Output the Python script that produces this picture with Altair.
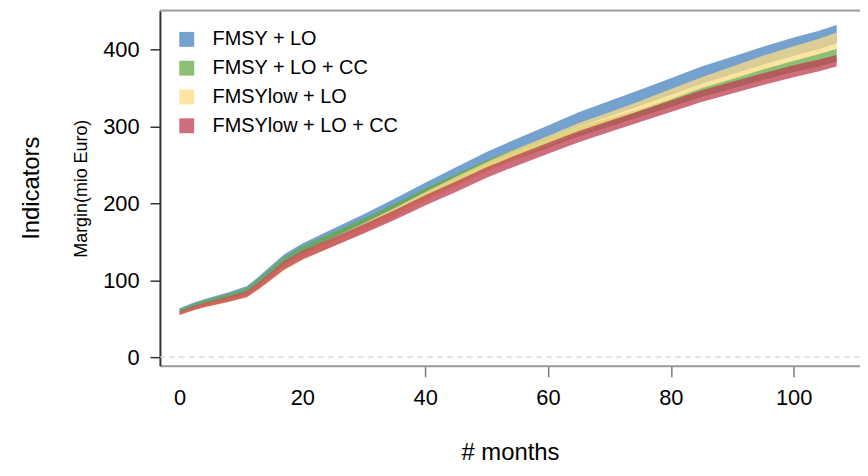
import altair as alt
import pandas as pd

# ---- data ----
months = [0, 2, 4, 6, 8, 11, 13, 15, 17, 20, 25, 30, 35, 40, 45, 50, 55, 60,
          65, 70, 75, 80, 85, 90, 95, 100, 104, 107]

blue_lo = [58.6, 64.5, 69.5, 73.4, 77.4, 84.3, 96.2, 109, 122, 135.9, 154.3, 173, 192.6, 213.2,
           232.6, 251.7, 268.4, 284.1, 299.8, 313.4, 327, 341, 355.5, 368, 380.5, 392, 400.7, 408.2]
blue_hi = [63.5, 70, 75.5, 80, 84.5, 92.5, 105.5, 119.5, 133.5, 148, 167, 186, 206, 227,
           247, 266.8, 284.5, 301.5, 318.5, 333.3, 348, 363, 378, 391, 404, 415.8, 424.5, 432]
green_lo = [57.2, 63, 67.8, 71.6, 75.4, 82, 93.6, 106.2, 118.8, 132.6, 150.2, 167.8, 186.4, 206,
            224.6, 242.6, 258.3, 272.6, 287.3, 300, 312.7, 325.6, 338.4, 349.7, 360.5, 371, 377.9, 384.5]
green_hi = [62.2, 68.5, 73.9, 78.2, 82.6, 90.3, 103, 116.7, 130.4, 144.7, 162.7, 180.5, 199.6, 219.5,
            238, 256, 271.2, 284.9, 299, 311, 322.8, 336.6, 350.9, 362.7, 375, 385.9, 394.3, 401.2]
yellow_lo = [54.5, 60, 64.5, 68, 71.5, 77.5, 88.5, 100.5, 112.5, 126, 144, 162.1, 181.6, 202.1,
             221.7, 241, 258.6, 274.9, 291.2, 305.7, 320.3, 334.8, 349.5, 361.7, 374, 385.4, 393.8, 401.2]
yellow_hi = [59, 65, 70, 74, 78, 85, 97, 110, 123, 137, 155.5, 174.3, 194.2, 215,
             234.8, 254, 271.6, 287.8, 304.5, 318.7, 333.3, 348.9, 364.2, 378, 392, 404.4, 413.9, 422.3]
red_lo = [55, 60.5, 65, 68.6, 72.2, 78.3, 89.4, 101.5, 113.6, 127.1, 144, 160.8, 178.6, 197.3,
          215, 233.3, 249.5, 264.5, 279.5, 292.8, 306, 319, 332, 343, 354, 364.3, 371.5, 378]
red_hi = [59.5, 65.5, 70.5, 74.6, 78.7, 85.8, 97.9, 111, 124, 138.1, 155.5, 173, 191.2, 210.5,
          228.4, 247, 263.5, 278.9, 294.3, 307.7, 320.7, 334, 347.2, 358.4, 369.5, 379.7, 386.9, 393.1]

series = ["FMSY + LO", "FMSY + LO + CC", "FMSYlow + LO", "FMSYlow + LO + CC"]
colors = ["#4682be", "#64aa46", "#fcdc82", "#be3c50"]
x_ticks = [0, 20, 40, 60, 80, 100]
y_ticks = [0, 100, 200, 300, 400]

bands = {
    series[0]: (blue_lo, blue_hi),
    series[1]: (green_lo, green_hi),
    series[2]: (yellow_lo, yellow_hi),
    series[3]: (red_lo, red_hi),
}

rows = []
for name, (lo, hi) in bands.items():
    for m, a, b in zip(months, lo, hi):
        rows.append({"month": m, "lo": a, "hi": b, "scenario": name})
df = pd.DataFrame(rows)

W = 705
H = 357.7
FONT = "Liberation Sans"

xscale = alt.Scale(domain=[-3.19, 110.8], nice=False, zero=False)
yscale = alt.Scale(domain=[-11.2, 450.9], nice=False, zero=False)
cscale = alt.Scale(domain=series, range=colors)

xaxis = alt.Axis(values=x_ticks, title="# months", titleFontSize=24, titleFontWeight="normal",
                 titleFont=FONT, titleColor="#000", titleY=87, titleBaseline="middle",
                 labelFontSize=22, labelFont=FONT, labelColor="#000", labelPadding=11,
                 tickSize=11, tickColor="#777", tickWidth=1.5,
                 tickOpacity={"condition": {"test": "datum.value < 40", "value": 0}, "value": 1},
                 domainColor="#9a9a9a", domainWidth=2, grid=False, labelFlush=False)
yaxis = alt.Axis(values=y_ticks, title="Margin(mio Euro)", titleFontSize=18, titleFontWeight="normal",
                 titleFont=FONT, titleColor="#000", titleX=-79, titleY=H / 2, titleAngle=270,
                 titleAlign="center", titleBaseline="middle",
                 labelFontSize=22, labelFont=FONT, labelColor="#000", labelPadding=11,
                 tickSize=10, tickColor="#333", tickWidth=1.5,
                 domainColor="#333", domainWidth=2, grid=False)

legend = alt.Legend(orient="none", legendX=17, legendY=19, title=None, symbolType="square",
                    symbolSize=225, symbolOpacity=0.75, symbolStrokeWidth=0, labelFontSize=20,
                    labelFont=FONT, labelColor="#000", rowPadding=9, labelOffset=16, padding=0,
                    labelLimit=400)

layers = []
for name in series:
    layers.append(
        alt.Chart(df[df["scenario"] == name]).mark_area(opacity=0.75).encode(
            x=alt.X("month:Q", scale=xscale, axis=xaxis),
            y=alt.Y("lo:Q", scale=yscale, axis=yaxis),
            y2="hi:Q",
            color=alt.Color("scenario:N", scale=cscale, legend=legend),
        )
    )

zero_line = alt.Chart(pd.DataFrame({"z": [0]})).mark_rule(
    color="#d4d4d4", strokeDash=[6, 4], strokeWidth=1.2
).encode(y=alt.Y("z:Q", scale=yscale, axis=yaxis))

top_line = alt.Chart(pd.DataFrame({"z": [0]})).mark_rule(color="#a0a0a0", strokeWidth=2).encode(
    x=alt.value(0), x2=alt.value(W), y=alt.value(0)
)

side_title = alt.Chart(pd.DataFrame({"t": ["Indicators"]})).mark_text(
    angle=270, fontSize=24, font=FONT, color="#000", align="center", baseline="middle"
).encode(text="t:N", x=alt.value(-129), y=alt.value(H / 2))

chart = alt.layer(zero_line, *layers, top_line, side_title).properties(
    width=W, height=H,
    autosize=alt.AutoSizeParams(type="none"),
    padding={"left": 153, "top": 1, "right": 0, "bottom": 99},
).configure_view(stroke=None).configure(background="white")

chart.save("out.html", embed_options={"renderer": "svg", "actions": False})
